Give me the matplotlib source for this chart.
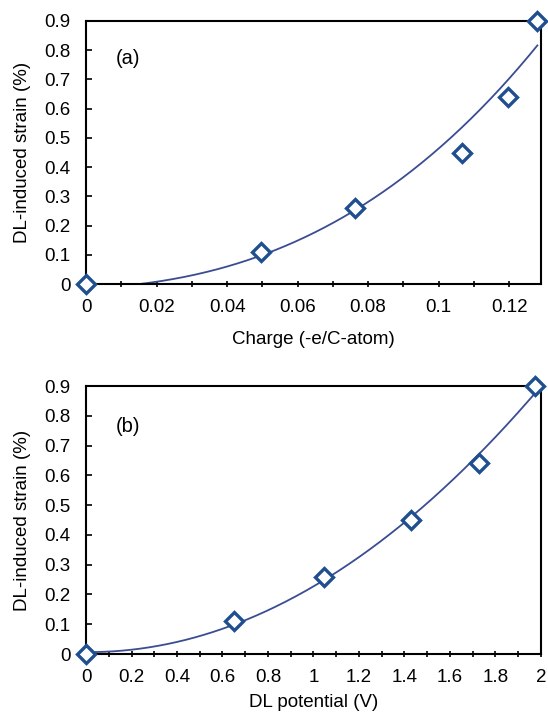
import numpy as np
import matplotlib.pyplot as plt

plt.rcParams['font.family'] = ['Liberation Sans', 'DejaVu Sans']

# strain measured vs charge and vs DL potential
strain = [0.0, 0.11, 0.26, 0.45, 0.64, 0.90]
charge = [0.0, 0.0495, 0.0763, 0.1066, 0.1198, 0.1279]
potential = [0.0, 0.65, 1.047, 1.428, 1.729, 1.973]

# model curve for panel (a), sampled along the charge axis
model_charge = [0.01, 0.02, 0.03, 0.04, 0.0495, 0.0763, 0.0847, 0.10, 0.1066, 0.12, 0.128]
model_strain = [0.0, 0.004, 0.02, 0.058, 0.109, 0.259, 0.316, 0.46, 0.53, 0.71, 0.815]

charge_ticks = [0, 0.02, 0.04, 0.06, 0.08, 0.1, 0.12]
charge_ticklabels = ['0', '0.02', '0.04', '0.06', '0.08', '0.1', '0.12']
potential_ticks = [0, 0.2, 0.4, 0.6, 0.8, 1.0, 1.2, 1.4, 1.6, 1.8, 2.0]
potential_ticklabels = ['0', '0.2', '0.4', '0.6', '0.8', '1', '1.2', '1.4', '1.6', '1.8', '2']
strain_ticks = [0, 0.1, 0.2, 0.3, 0.4, 0.5, 0.6, 0.7, 0.8, 0.9]
strain_ticklabels = ['0', '0.1', '0.2', '0.3', '0.4', '0.5', '0.6', '0.7', '0.8', '0.9']

marker_color = '#1f4f8f'
line_color = '#3b4d92'


def trend(xs, ys, order):
    # smooth polynomial through the given samples
    xs = np.asarray(xs)
    coef = np.polyfit(xs, ys, order)
    xf = np.linspace(xs.min(), xs.max(), 300)
    return xf, np.clip(np.polyval(coef, xf), 0, None)


def draw_panel(ax, x, y, curve, xlim, xticks, xticklabels, xminor, xlabel, tag, tag_y, xlabelpad):
    ax.plot(curve[0], curve[1], color=line_color, lw=1.3, zorder=2)
    ax.plot(x, y, linestyle='none', marker='D', markersize=9,
            markerfacecolor='white', markeredgecolor=marker_color,
            markeredgewidth=2.4, zorder=3, clip_on=False)

    ax.set_xlim(*xlim)
    ax.set_ylim(0, 0.9)
    ax.set_xticks(xticks)
    ax.set_xticklabels(xticklabels)
    ax.set_xticks(xminor, minor=True)
    ax.set_yticks(strain_ticks)
    ax.set_yticklabels(strain_ticklabels)
    ax.tick_params(axis='y', direction='in', length=4, width=1.2, labelsize=13.5, pad=11)
    ax.tick_params(axis='x', which='both', direction='inout', length=5, width=1.2,
                   labelsize=13.5, pad=8)
    for s in ax.spines.values():
        s.set_linewidth(1.5)
    ax.set_xlabel(xlabel, fontsize=13.5, labelpad=xlabelpad)
    ax.set_ylabel('DL-induced strain (%)', fontsize=13.5, labelpad=10)
    ax.text(0.066, tag_y, tag, transform=ax.transAxes, fontsize=14.5, va='center')


fig = plt.figure(figsize=(5.48, 7.23), dpi=100)
ax1 = fig.add_axes([0.157, 0.607, 0.830, 0.364])
ax2 = fig.add_axes([0.157, 0.0954, 0.830, 0.3707])

draw_panel(ax1, charge, strain, trend(model_charge, model_strain, 3), (0, 0.129),
           charge_ticks, charge_ticklabels, np.arange(0, 0.1295, 0.01),
           'Charge (-e/C-atom)', '(a)', 0.859, 11)
draw_panel(ax2, potential, strain, trend(potential, strain, 2), (0, 2.0),
           potential_ticks, potential_ticklabels, np.arange(0, 2.01, 0.1),
           'DL potential (V)', '(b)', 0.848, 6)

fig.savefig('out.png', dpi=100)
